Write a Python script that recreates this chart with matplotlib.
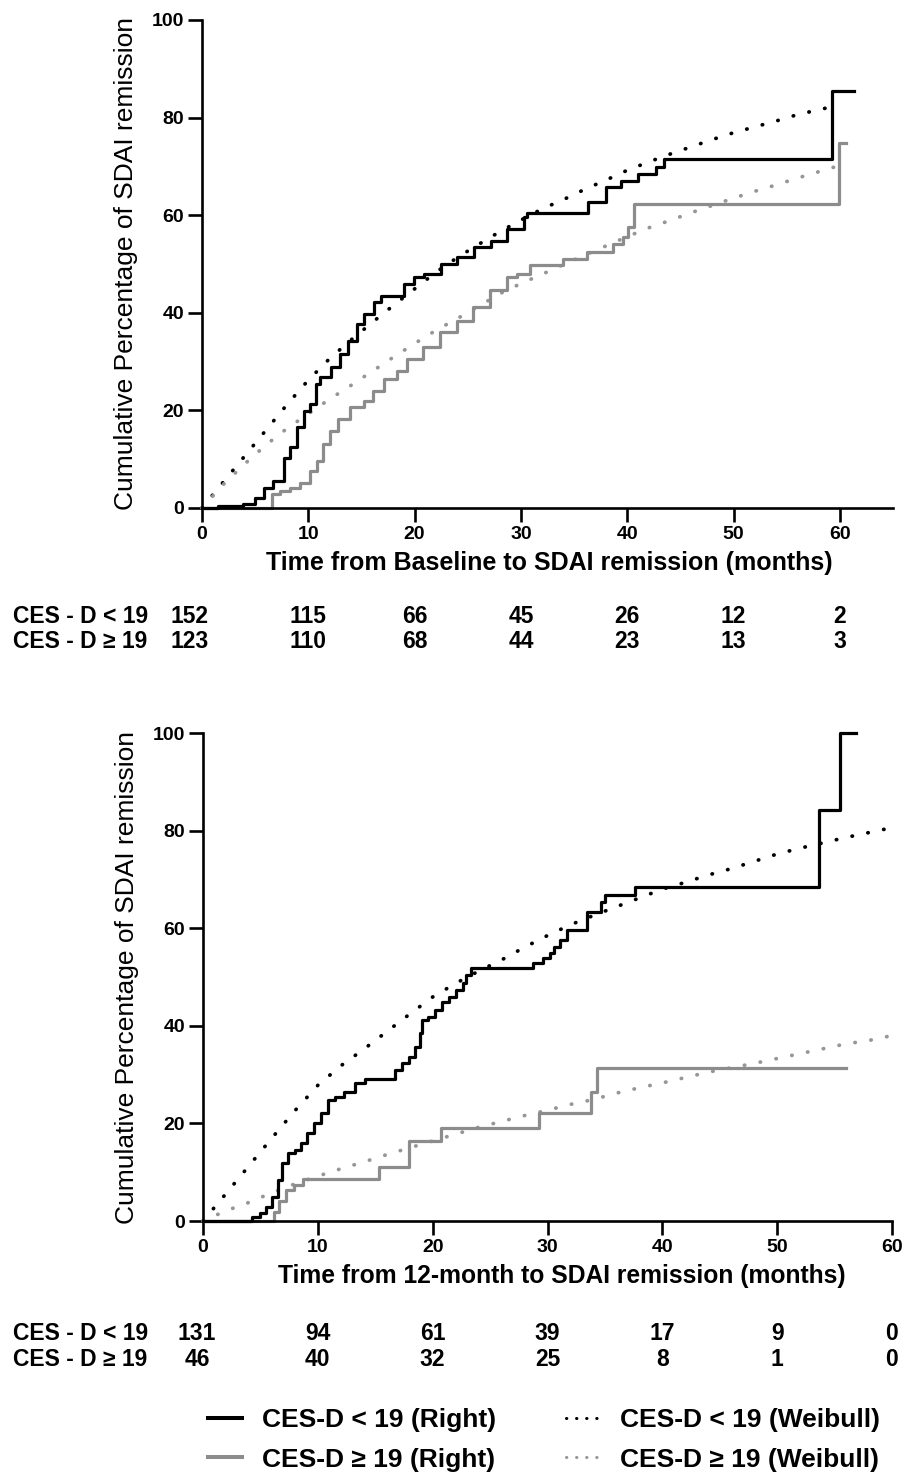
import matplotlib
matplotlib.use("Agg")
import matplotlib.pyplot as plt
import matplotlib.transforms as mtransforms
from matplotlib.lines import Line2D

plt.rcParams['font.family'] = ['Liberation Sans', 'DejaVu Sans']

# ---- data ----
# top panel: baseline -> remission
top_lo_t = [0, 1.5, 3.9, 5.0, 5.8, 6.7, 7.7, 8.3, 8.9, 9.6, 10.2, 10.7, 11.1, 12.1, 13.0, 13.7,
            14.6, 15.2, 16.2, 16.8, 19.0, 19.9, 20.9, 22.5, 24.0, 25.6, 27.2, 28.7, 30.3, 30.6,
            36.3, 38.0, 39.4, 41.0, 42.7, 43.5, 59.3, 61.3]
top_lo_v = [0, 0.4, 0.9, 2.1, 4.2, 5.5, 10.3, 12.4, 16.5, 19.9, 21.3, 25.4, 26.8, 28.8, 31.6, 34.3,
            37.7, 39.8, 42.2, 43.5, 45.9, 47.3, 48.0, 50.0, 51.4, 53.4, 54.8, 57.2, 59.6, 60.4,
            62.7, 65.8, 67.1, 68.4, 69.9, 71.6, 85.5, 85.5]
top_hi_t = [0, 6.6, 7.3, 8.3, 9.2, 10.2, 10.8, 11.4, 12.0, 12.8, 13.9, 15.2, 16.1, 17.1, 18.3, 19.3,
            20.8, 22.4, 24.0, 25.5, 27.1, 28.7, 29.6, 30.9, 34.0, 36.2, 38.7, 39.6, 40.1, 40.6,
            59.9, 60.6]
top_hi_v = [0, 2.8, 3.5, 4.2, 5.2, 7.6, 9.7, 13.1, 15.8, 18.2, 20.6, 22.0, 24.0, 26.4, 28.1, 30.5,
            32.9, 36.0, 38.4, 41.1, 44.6, 47.3, 48.0, 49.7, 51.0, 52.4, 54.1, 55.5, 57.5, 62.3,
            74.7, 74.7]

# bottom panel: 12-month -> remission
bot_lo_t = [0, 4.3, 5.0, 5.5, 6.05, 6.5, 6.9, 7.4, 8.0, 8.5, 9.1, 9.7, 10.3, 10.9, 11.5, 12.3,
            13.2, 14.1, 16.7, 17.3, 17.9, 18.5, 18.9, 19.1, 19.6, 20.2, 20.8, 21.4, 22.0, 22.6,
            22.9, 23.3, 28.7, 29.6, 30.2, 30.6, 31.1, 31.7, 33.4, 34.7, 35.0, 37.6, 53.6, 55.5, 56.9]
bot_lo_v = [0, 0.9, 1.6, 2.9, 5.0, 8.4, 11.8, 13.9, 14.5, 15.9, 18.0, 20.0, 22.1, 24.8, 25.5, 26.5,
            28.2, 29.2, 30.9, 32.3, 33.7, 35.7, 38.5, 41.2, 41.9, 43.2, 44.9, 46.0, 47.3, 48.7,
            50.4, 51.8, 52.9, 53.8, 54.9, 56.2, 57.6, 59.6, 63.4, 65.4, 66.8, 68.5, 84.2, 100, 100]
bot_hi_t = [0, 6.2, 6.6, 7.2, 7.9, 8.7, 15.3, 17.9, 20.7, 29.3, 33.8, 34.3, 56.0]
bot_hi_v = [0, 1.9, 4.0, 6.4, 7.4, 8.7, 11.1, 16.3, 19.0, 22.1, 26.5, 31.3, 31.3]

# Weibull fits, read every 2 months
wb_t = [0, 2, 4, 6, 8, 10, 12, 14, 16, 18, 20, 22, 24, 26, 28, 30, 32, 34, 36, 38, 40,
        42, 44, 46, 48, 50, 52, 54, 56, 58, 60]
top_lo_wb = [0, 5.3, 10.6, 15.9, 21.2, 26.2, 30.6, 34.4, 38.0, 41.5, 44.9, 48.3, 51.3, 54.0, 56.6,
             59.0, 61.3, 63.2, 65.3, 67.2, 69.2, 70.9, 72.5, 74.0, 75.5, 76.9, 78.1, 79.3, 80.6,
             81.6, 82.6]
top_hi_wb = [0, 4.8, 9.0, 12.9, 16.3, 19.3, 22.3, 25.1, 28.0, 30.9, 33.7, 36.4, 38.8, 41.3, 43.9,
             46.0, 47.9, 49.9, 51.8, 53.7, 55.6, 57.4, 58.9, 60.5, 62.0, 63.5, 64.9, 66.2, 67.6,
             68.9, 70.2]
bot_lo_wb = [0, 5.6, 11.3, 17.0, 22.6, 27.8, 31.8, 35.2, 38.8, 42.4, 45.9, 48.7, 51.2, 53.5, 56.1,
             58.5, 60.7, 62.6, 64.4, 66.2, 68.0, 69.4, 70.9, 72.2, 73.7, 75.2, 76.4, 77.5, 78.6,
             79.6, 80.6]
bot_hi_wb = [0, 2.1, 3.8, 5.8, 7.6, 9.2, 10.7, 12.1, 13.6, 15.0, 16.4, 17.8, 19.2, 20.4, 21.6,
             22.7, 23.9, 24.9, 26.2, 27.3, 28.3, 29.4, 30.5, 31.4, 32.3, 33.3, 34.3, 35.3, 36.3,
             37.0, 38.0]

# numbers at risk
risk_times = [0, 10, 20, 30, 40, 50, 60]
top_risk_lo = [152, 115, 66, 45, 26, 12, 2]
top_risk_hi = [123, 110, 68, 44, 23, 13, 3]
bot_risk_lo = [131, 94, 61, 39, 17, 9, 0]
bot_risk_hi = [46, 40, 32, 25, 8, 1, 0]

row_labels = ['CES - D < 19', 'CES - D ≥ 19']
legend_labels = ['CES-D < 19 (Right)', 'CES-D ≥ 19 (Right)',
                 'CES-D < 19 (Weibull)', 'CES-D ≥ 19 (Weibull)']

BLACK = 'black'
GRAY = '#8c8c8c'
GRAY_DOT = '#969696'
KM_LW = 2.3
DOT_LW = 2.7
DOTS = (0, (0.1, 4.2))

W, H = 909, 1474
fig = plt.figure(figsize=(W / 100, H / 100), dpi=100)


def fax(left, top, right, bottom):
    """axes from pixel box"""
    return fig.add_axes([left / W, 1 - bottom / H, (right - left) / W, (bottom - top) / H])


def style_axis(ax, xmax, xlabel, xlabel_x, xlabel_size):
    ax.set_xlim(0, xmax)
    ax.set_ylim(0, 100)
    ax.set_xticks(risk_times)
    ax.set_yticks([0, 20, 40, 60, 80, 100])
    for s in ['top', 'right']:
        ax.spines[s].set_visible(False)
    for s in ['left', 'bottom']:
        ax.spines[s].set_linewidth(1.9)
    ax.tick_params(width=1.9, length=10, labelsize=14, pad=3)
    for lab in ax.get_xticklabels() + ax.get_yticklabels():
        lab.set_fontweight('bold')
    ax.set_ylabel('Cumulative Percentage of SDAI remission', fontsize=19)
    ax.yaxis.set_label_coords(-0.11, 0.5)
    ax.yaxis.label.set_va('center')
    ax.set_xlabel(xlabel, fontsize=xlabel_size, fontweight='bold')
    ax.xaxis.set_label_coords(xlabel_x, -0.113)
    ax.xaxis.label.set_va('center')


def draw_panel(ax, km_lo, km_hi, wb_lo, wb_hi):
    ax.plot(wb_t, wb_lo, color=BLACK, lw=DOT_LW, ls=DOTS, dash_capstyle='round', clip_on=False)
    ax.plot(wb_t, wb_hi, color=GRAY_DOT, lw=DOT_LW, ls=DOTS, dash_capstyle='round', clip_on=False)
    ax.plot(km_hi[0], km_hi[1], color=GRAY, lw=KM_LW, drawstyle='steps-post', clip_on=False)
    ax.plot(km_lo[0], km_lo[1], color=BLACK, lw=KM_LW, drawstyle='steps-post', clip_on=False)


def risk_table(ax, rows, y_px, first_shift):
    tr = mtransforms.blended_transform_factory(ax.transData, fig.transFigure)
    for vals, yp, lab in zip(rows, y_px, row_labels):
        fy = 1 - yp / H
        fig.text(13 / W, fy, lab, fontsize=16.5, fontweight='bold', va='center', ha='left')
        for i, (t, n) in enumerate(zip(risk_times, vals)):
            shift = first_shift if i == 0 else 0
            off = mtransforms.ScaledTranslation(shift / 100, 0, fig.dpi_scale_trans)
            ax.text(t, fy, str(n), transform=tr + off, fontsize=16.5, fontweight='bold',
                    ha='center', va='center')


# top panel
ax1 = fax(202, 20, 893, 508)
draw_panel(ax1, (top_lo_t, top_lo_v), (top_hi_t, top_hi_v), top_lo_wb, top_hi_wb)
style_axis(ax1, 65, 'Time from Baseline to SDAI remission (months)', 0.502, 18)
risk_table(ax1, [top_risk_lo, top_risk_hi], [617, 641], -12)

# bottom panel
ax2 = fax(203, 733, 892, 1221)
draw_panel(ax2, (bot_lo_t, bot_lo_v), (bot_hi_t, bot_hi_v), bot_lo_wb, bot_hi_wb)
style_axis(ax2, 60, 'Time from 12-month to SDAI remission (months)', 0.521, 17.7)
risk_table(ax2, [bot_risk_lo, bot_risk_hi], [1334, 1360], -6)

# legend, two columns placed separately
km_handles = [Line2D([], [], color=BLACK, lw=KM_LW + 0.6),
              Line2D([], [], color=GRAY, lw=KM_LW + 0.6)]
wb_handles = [Line2D([], [], color=BLACK, lw=2.2, ls=(0, (0.1, 3.2)), dash_capstyle='round'),
              Line2D([], [], color=GRAY_DOT, lw=2.2, ls=(0, (0.1, 3.2)), dash_capstyle='round')]
leg_kw = dict(frameon=False, prop={'weight': 'bold', 'size': 19},
              handlelength=1.3, handletextpad=0.75, labelspacing=0.58,
              borderpad=0, borderaxespad=0, loc='center left')
fig.legend(km_handles, legend_labels[:2], bbox_to_anchor=(208 / W, 1 - 1440 / H), **leg_kw)
fig.legend(wb_handles, legend_labels[2:], bbox_to_anchor=(566 / W, 1 - 1440 / H), **leg_kw)

fig.savefig('out.png', dpi=100)
